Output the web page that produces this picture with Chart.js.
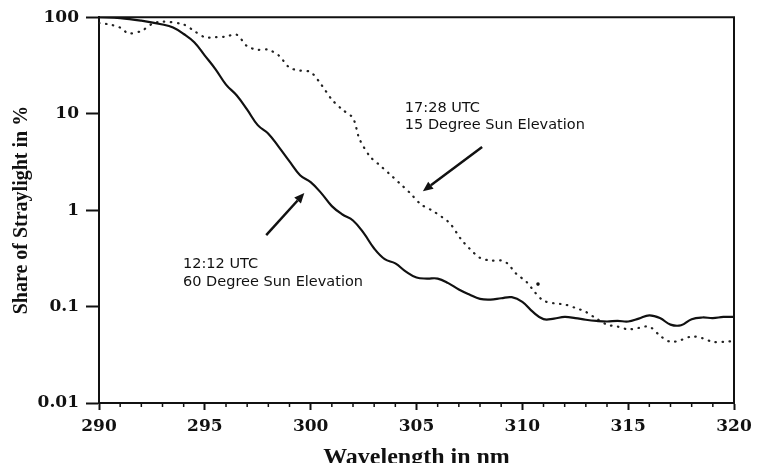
<!DOCTYPE html>
<html>
<head>
<meta charset="utf-8">
<script src="https://cdn.jsdelivr.net/npm/chart.js@4.4.1/dist/chart.umd.min.js"></script>
<style>
  html, body { margin: 0; padding: 0; background: #fff; }
  #wrap { width: 764px; height: 463px; }
</style>
</head>
<body>
<div id="wrap"><canvas id="chart" width="764" height="463"></canvas></div>
<script>
// 12:12 UTC, 60 degree sun elevation (solid)
const noonWl = [290, 291, 292, 293, 293.5, 294, 294.5, 295, 295.5, 296, 296.5, 297, 297.5, 298, 298.5, 299, 299.5, 300,
  300.5, 301, 301.5, 302, 302.5, 303, 303.5, 304, 304.5, 305, 305.5, 306, 306.5, 307, 307.5, 308, 308.5, 309, 309.5, 310,
  310.5, 311, 311.5, 312, 312.5, 313, 313.5, 314, 314.5, 315, 315.5, 316, 316.5, 317, 317.5, 318, 318.5, 319, 319.5, 320];
const noonVal = [100, 98, 92, 84, 78, 67, 55, 40, 29, 20, 15.5, 11, 7.6, 6.2, 4.5, 3.2, 2.3, 1.95,
  1.5, 1.1, 0.9, 0.78, 0.58, 0.4, 0.31, 0.28, 0.23, 0.2, 0.195, 0.195, 0.175, 0.15, 0.133, 0.12, 0.118, 0.122, 0.125, 0.112,
  0.088, 0.074, 0.075, 0.078, 0.076, 0.073, 0.071, 0.07, 0.071, 0.07, 0.075, 0.081, 0.076, 0.065, 0.064, 0.074, 0.077, 0.076, 0.078, 0.078];

// 17:28 UTC, 15 degree sun elevation (dotted)
const eveWl = [290, 290.5, 291, 291.4, 292, 292.5, 293, 294, 294.5, 295, 295.5, 296, 296.5, 297, 297.5, 298, 298.5, 299,
  299.5, 300, 300.5, 301, 301.5, 302, 302.3, 302.8, 303.2, 303.7, 304.2, 304.7, 305.2, 305.7, 306.2, 306.6, 307.1, 307.5,
  308, 308.5, 309, 309.3, 309.7, 310.2, 310.6, 311, 311.5, 312, 312.5, 313, 313.5, 314, 314.5, 315, 315.5, 316, 316.5,
  317, 317.5, 318, 318.5, 319, 319.5, 320];
const eveVal = [87, 84, 78, 68, 72, 85, 90, 84, 72, 62, 62, 63, 66, 50, 46, 46, 40, 30,
  28, 27, 20, 14, 11, 9, 5.5, 3.6, 3.0, 2.4, 1.9, 1.5, 1.15, 1.0, 0.85, 0.72, 0.5, 0.4,
  0.32, 0.3, 0.3, 0.28, 0.22, 0.18, 0.14, 0.115, 0.108, 0.105, 0.097, 0.088, 0.075, 0.065, 0.062, 0.058, 0.06, 0.062, 0.05,
  0.043, 0.045, 0.049, 0.047, 0.043, 0.043, 0.044];

// stray dot in the figure
const strayWl = [310.74];
const strayVal = [0.171];

const yTicks = [0.01, 0.1, 1, 10, 100];
const yTickLabels = ['0.01', '0.1', '1', '10', '100'];

// annotation texts: [wavelength, value, text]
const notes = [
  [304.45, 10.5, '17:28 UTC'],
  [304.45, 6.9, '15 Degree Sun Elevation'],
  [293.97, 0.25, '12:12 UTC'],
  [293.97, 0.162, '60 Degree Sun Elevation']
];
// arrows: [fromWl, fromVal, toWl, toVal]
const arrows = [
  [308.1, 4.5, 305.3, 1.57],
  [297.9, 0.55, 299.7, 1.5]
];

const toPts = (xs, ys) => xs.map((x, i) => ({ x: x, y: ys[i] }));

// frame on top and right, minor ticks on x
const framePlugin = {
  id: 'frame',
  afterDraw(chart) {
    const { ctx, chartArea: a, scales } = chart;
    ctx.save();
    ctx.strokeStyle = '#111';
    ctx.lineWidth = 2;
    ctx.beginPath();
    ctx.moveTo(a.left, a.top);
    ctx.lineTo(a.right, a.top);
    ctx.lineTo(a.right, a.bottom);
    ctx.stroke();
    ctx.lineWidth = 1.5;
    ctx.beginPath();
    for (let w = 291; w < 320; w++) {
      if (w % 5 === 0) continue;
      const px = scales.x.getPixelForValue(w);
      ctx.moveTo(px, a.bottom);
      ctx.lineTo(px, a.bottom + 4);
    }
    ctx.stroke();
    ctx.restore();
  }
};

const notesPlugin = {
  id: 'notes',
  afterDatasetsDraw(chart) {
    const { ctx, scales } = chart;
    ctx.save();
    ctx.fillStyle = '#111';
    ctx.font = '14.5px "DejaVu Sans", sans-serif';
    ctx.textBaseline = 'alphabetic';
    notes.forEach(n => {
      ctx.fillText(n[2], scales.x.getPixelForValue(n[0]), scales.y.getPixelForValue(n[1]));
    });
    ctx.strokeStyle = '#111';
    ctx.lineWidth = 2.5;
    arrows.forEach(a => {
      const x1 = scales.x.getPixelForValue(a[0]), y1 = scales.y.getPixelForValue(a[1]);
      const x2 = scales.x.getPixelForValue(a[2]), y2 = scales.y.getPixelForValue(a[3]);
      const ang = Math.atan2(y2 - y1, x2 - x1);
      const hl = 10, hw = 4.5;
      const bx = x2 - hl * Math.cos(ang), by = y2 - hl * Math.sin(ang);
      ctx.beginPath();
      ctx.moveTo(x1, y1);
      ctx.lineTo(bx, by);
      ctx.stroke();
      ctx.beginPath();
      ctx.moveTo(x2, y2);
      ctx.lineTo(bx + hw * Math.sin(ang), by - hw * Math.cos(ang));
      ctx.lineTo(bx - hw * Math.sin(ang), by + hw * Math.cos(ang));
      ctx.closePath();
      ctx.fill();
    });
    ctx.restore();
  }
};

const tickFont = { family: '"DejaVu Serif", serif', size: 17, weight: 'bold' };

new Chart(document.getElementById('chart'), {
  type: 'line',
  data: {
    datasets: [
      {
        label: '12:12 UTC',
        data: toPts(noonWl, noonVal),
        borderColor: '#111',
        borderWidth: 2.2,
        pointRadius: 0,
        tension: 0.4,
        fill: false
      },
      {
        label: '17:28 UTC',
        data: toPts(eveWl, eveVal),
        borderColor: '#222',
        borderWidth: 2.2,
        borderDash: [0.5, 6.5],
        borderCapStyle: 'round',
        pointRadius: 0,
        tension: 0.3,
        fill: false
      },
      {
        label: 'stray',
        data: toPts(strayWl, strayVal),
        showLine: false,
        pointRadius: 1.8,
        pointBackgroundColor: '#111',
        pointBorderWidth: 0
      }
    ]
  },
  options: {
    responsive: false,
    animation: false,
    layout: { padding: { left: 0, right: 30, top: 17, bottom: 0 } },
    plugins: {
      legend: { display: false },
      tooltip: { enabled: false }
    },
    scales: {
      x: {
        type: 'linear',
        min: 290,
        max: 320,
        ticks: { stepSize: 5, color: '#111', font: tickFont, padding: 6 },
        grid: { drawOnChartArea: false, tickLength: 7, color: '#111', tickWidth: 2 },
        border: { display: true, color: '#111', width: 2 },
        title: {
          display: true,
          text: 'Wavelength in nm',
          color: '#111',
          font: { family: '"Liberation Serif", serif', size: 24, weight: 'bold' },
          padding: { top: 0, bottom: -9 }
        },
        afterFit(scale) { scale.height = 60; }
      },
      y: {
        type: 'logarithmic',
        min: 0.01,
        max: 100,
        afterBuildTicks(scale) { scale.ticks = yTicks.map(v => ({ value: v })); },
        ticks: {
          color: '#111',
          font: tickFont,
          padding: 7,
          callback: (v) => yTickLabels[yTicks.indexOf(v)] ?? ''
        },
        grid: { drawOnChartArea: false, tickLength: 13, color: '#111', tickWidth: 2 },
        border: { display: true, color: '#111', width: 2 },
        title: {
          display: true,
          text: 'Share of Straylight in %',
          color: '#111',
          font: { family: '"Liberation Serif", serif', size: 20, weight: 'bold' },
          padding: { top: 10, bottom: 0 }
        },
        afterFit(scale) { scale.width = 99; }
      }
    }
  },
  plugins: [framePlugin, notesPlugin]
});
</script>
</body>
</html>
